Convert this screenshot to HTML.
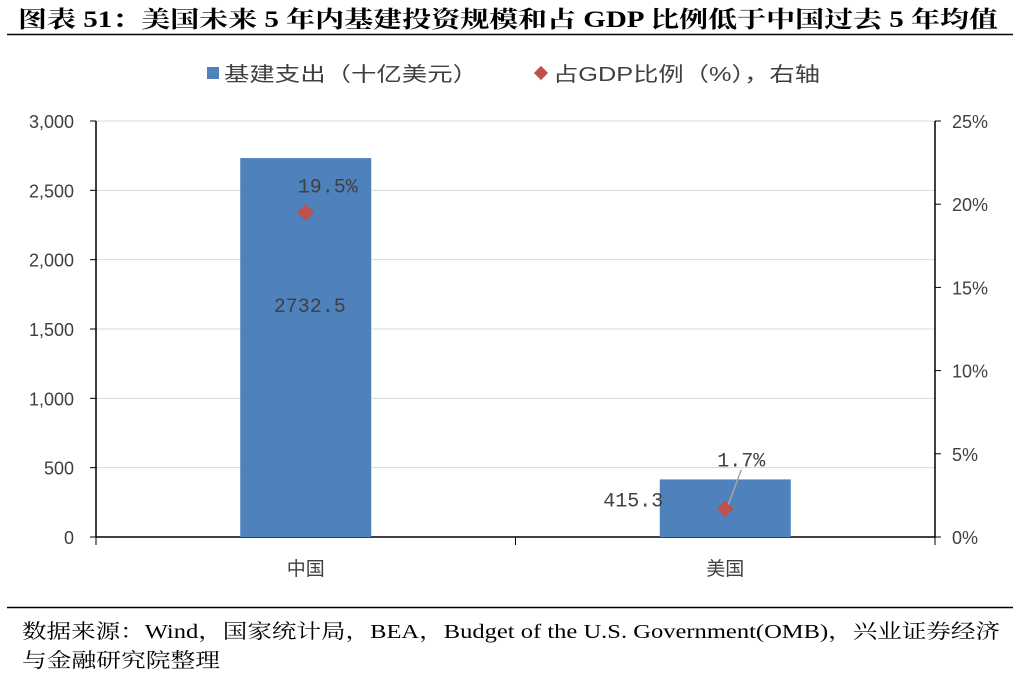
<!DOCTYPE html>
<html><head><meta charset="utf-8"><style>
html,body{margin:0;padding:0;background:#fff;width:1020px;height:679px;overflow:hidden}
svg{display:block}
</style></head><body>
<svg id="c" width="1020" height="679" xmlns="http://www.w3.org/2000/svg">
<text x="18" y="27" textLength="980" lengthAdjust="spacingAndGlyphs" font-family="'Liberation Serif','Noto Serif CJK SC',serif" font-size="23" font-weight="bold" fill="#000">图表 51：美国未来 5 年内基建投资规模和占 GDP 比例低于中国过去 5 年均值</text>
<line x1="7" y1="34.5" x2="1013" y2="34.5" stroke="#000" stroke-width="1.5"/>
<g>
<g><rect x="207" y="67" width="12" height="12" fill="#4f81bd"/><text x="224" y="81" textLength="254" lengthAdjust="spacingAndGlyphs" font-family="'Liberation Sans','Noto Sans CJK SC',sans-serif" font-size="20" fill="#404040">基建支出（十亿美元）</text></g>
<g><rect x="536" y="68" width="10" height="10" fill="#c0504d" transform="rotate(45 541 73)"/><text x="553" y="81" textLength="267" lengthAdjust="spacingAndGlyphs" font-family="'Liberation Sans','Noto Sans CJK SC',sans-serif" font-size="20" fill="#404040">占GDP比例（%），右轴</text></g>
</g>
<g id="grid"></g><g id="axes"></g><g id="marks"></g>
<line x1="7" y1="607.5" x2="1013" y2="607.5" stroke="#000" stroke-width="1.5"/>
<text x="22" y="638" textLength="978" lengthAdjust="spacingAndGlyphs" font-family="'Liberation Serif','Noto Serif CJK SC',serif" font-size="20" fill="#000">数据来源：Wind，国家统计局，BEA，Budget of the U.S. Government(OMB)，兴业证券经济</text>
<text x="22" y="667" textLength="198" lengthAdjust="spacingAndGlyphs" font-family="'Liberation Serif','Noto Serif CJK SC',serif" font-size="20" fill="#000">与金融研究院整理</text>
</svg>
<script>
const categories=["中国","美国"];
const spending=[2732.5,415.3];
const gdpShare=[19.5,1.7];
const leftTicks=[0,500,1000,1500,2000,2500,3000];
const rightTicks=[0,5,10,15,20,25];
const NS="http://www.w3.org/2000/svg";
const X0=96,X1=935,Y0=537,Y1=121;
const yL=v=>Y0-(v/3000)*(Y0-Y1);
const yR=v=>Y0-(v/25)*(Y0-Y1);
const band=(X1-X0)/categories.length;
const xC=i=>X0+band*(i+0.5);
const F="'Liberation Sans','Noto Sans CJK SC',sans-serif";
function mk(tag,attrs,parent,text){const e=document.createElementNS(NS,tag);for(const k in attrs)e.setAttribute(k,attrs[k]);if(text!=null)e.textContent=text;document.getElementById(parent).appendChild(e);return e;}
leftTicks.forEach(t=>{
  if(t>0){const g=mk('line',{x1:X0,x2:X1,y1:yL(t),y2:yL(t),stroke:'#d9d9d9','stroke-width':1},'grid');
  
  }
  const tk=mk('line',{x1:X0-6,x2:X0,y1:yL(t),y2:yL(t),stroke:'#000'},'axes');
  
  
  const l=mk('text',{x:X0-22,y:yL(t)+7,'text-anchor':'end','font-family':F,'font-size':18,fill:'#404040'},'axes',t.toLocaleString('en-US'));
  
  
});
rightTicks.forEach(t=>{
  const tk=mk('line',{x1:X1,x2:X1+6,y1:yR(t),y2:yR(t),stroke:'#000'},'axes');
  
  
  const l=mk('text',{x:X1+17,y:yR(t)+7,'font-family':F,'font-size':18,fill:'#404040'},'axes',t+'%');
  
  
});
let a=mk('line',{x1:X0,x2:X0,y1:Y1,y2:Y0,stroke:'#000','stroke-width':1.5},'axes');

a=mk('line',{x1:X1,x2:X1,y1:Y1,y2:Y0,stroke:'#000','stroke-width':1.5},'axes');

a=mk('line',{x1:X0,x2:X1,y1:Y0,y2:Y0,stroke:'#000','stroke-width':1.5},'axes');

for(let i=0;i<=categories.length;i++){const t=mk('line',{x1:X0+band*i,x2:X0+band*i,y1:Y0,y2:Y0+8,stroke:'#000'},'axes');
}
const bw=131;
categories.forEach((c,i)=>{
  const cl=mk('text',{x:xC(i),y:575,'text-anchor':'middle','font-family':F,'font-size':19,fill:'#404040'},'axes',c);
  
  
  const b=mk('rect',{x:xC(i)-bw/2,y:yL(spending[i]),width:bw,height:Y0-yL(spending[i]),fill:'#4f81bd'},'marks');
  
  
  const cx=xC(i),cy=yR(gdpShare[i]);
  const d=mk('rect',{x:cx-6,y:cy-6,width:12,height:12,fill:'#c0504d',transform:`rotate(45 ${cx} ${cy})`},'marks');
  
  
});
const FM="'Liberation Mono','Noto Sans CJK SC',monospace";
let t=mk('text',{x:xC(0)+4,y:yL(spending[0])+154,'text-anchor':'middle','font-family':FM,'font-size':20,fill:'#404040'},'marks',spending[0].toFixed(1));

t=mk('text',{x:xC(1)-62,y:yL(spending[1])+27,'text-anchor':'end','font-family':FM,'font-size':20,fill:'#404040'},'marks',spending[1].toFixed(1));

t=mk('text',{x:xC(0)+22,y:yR(gdpShare[0])-20,'text-anchor':'middle','font-family':FM,'font-size':20,fill:'#404040'},'marks',gdpShare[0].toFixed(1)+'%');

const ly=mk('line',{x1:xC(1)+16,y1:yR(gdpShare[1])-39,x2:xC(1)+3,y2:yR(gdpShare[1])-4,stroke:'#a6a6a6','stroke-width':1.5},'marks');

t=mk('text',{x:xC(1)+16,y:yR(gdpShare[1])-42,'text-anchor':'middle','font-family':FM,'font-size':20,fill:'#404040'},'marks',gdpShare[1].toFixed(1)+'%');

</script>
</body></html>
